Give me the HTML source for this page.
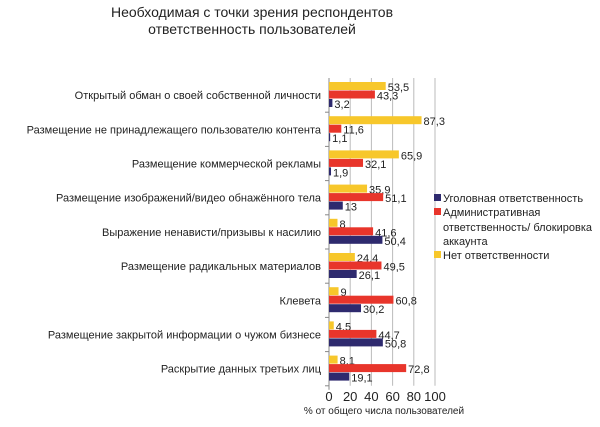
<!DOCTYPE html>
<html><head><meta charset="utf-8"><style>
body{margin:0;background:#fff;font-family:"Liberation Sans",sans-serif}
svg text{font-family:"Liberation Sans",sans-serif}
</style></head><body>
<svg id="c" width="600" height="422" xmlns="http://www.w3.org/2000/svg">
<text x="252" y="17" font-size="14" text-anchor="middle" fill="#222">Необходимая с точки зрения респондентов</text>
<text x="252" y="34" font-size="14" text-anchor="middle" fill="#222">ответственность пользователей</text>
<g id="plot"></g>
<g>
<rect x="434" y="194" width="7" height="7" fill="#2e2a6e"/>
<text x="443" y="202" font-size="11" fill="#222">Уголовная ответственность</text>
<rect x="434" y="208" width="7" height="7" fill="#e8352b"/>
<text x="443" y="216" font-size="11" fill="#222">Административная</text>
<text x="443" y="231" font-size="11" fill="#222">ответственность/ блокировка</text>
<text x="443" y="245" font-size="11" fill="#222">аккаунта</text>
<rect x="434" y="251" width="7" height="7" fill="#f7c72b"/>
<text x="443" y="259" font-size="11" fill="#222">Нет ответственности</text>
</g>
<text x="384" y="414" font-size="10" text-anchor="middle" fill="#222">% от общего числа пользователей</text>
</svg>
<script>
const categories=["Открытый обман о своей собственной личности","Размещение не принадлежащего пользователю контента","Размещение коммерческой рекламы","Размещение изображений/видео обнажённого тела","Выражение ненависти/призывы к насилию","Размещение радикальных материалов","Клевета","Размещение закрытой информации о чужом бизнесе","Раскрытие данных третьих лиц"];
const criminal=[3.2,1.1,1.9,13,50.4,26.1,30.2,50.8,19.1];
const admin=[43.3,11.6,32.1,51.1,41.6,49.5,60.8,44.7,72.8];
const none=[53.5,87.3,65.9,35.9,8,24.4,9,4.5,8.1];
const ticks=[0,20,40,60,80,100];
const NS="http://www.w3.org/2000/svg";
const g=document.getElementById('plot');
const x0=329,x1=435,yTop=78,band=34.2;
const X=v=>x0+(x1-x0)*v/100;
const Y=i=>yTop+band*i;
function mk(t,a){const e=document.createElementNS(NS,t);for(const k in a)e.setAttribute(k,a[k]);g.appendChild(e);return e;}
ticks.forEach(t=>{
 if(t>0){const l=mk('line',{x1:X(t),x2:X(t),y1:yTop,y2:yTop+band*9,stroke:'#bbb','stroke-width':1});
 
 }
 const tx=mk('text',{x:X(t),y:401,'font-size':13,'text-anchor':'middle',fill:'#222'});tx.textContent=t;
 
 
});
const ax=mk('line',{x1:x0,x2:x0,y1:yTop,y2:yTop+band*9+4,stroke:'#888'});


const series=[[none,'#f7c72b','none'],[admin,'#e8352b','admin'],[criminal,'#2e2a6e','criminal']];
categories.forEach((c,i)=>{
 const tk=mk('line',{x1:x0-4,x2:x0,y1:Y(i+1),y2:Y(i+1),stroke:'#888'});
 
 
 const lb=mk('text',{x:321,y:Y(i)+band/2+4,'font-size':11,'text-anchor':'end',fill:'#222'});lb.textContent=c;
 
 
 series.forEach(([arr,col,nm],k)=>{
  const y=Y(i)+4+k*8.5;
  const r=mk('rect',{x:x0,y:y,width:X(arr[i])-x0,height:8,fill:col});
  
  
  const t=mk('text',{x:X(arr[i])+2,y:y+9,'font-size':11,fill:'#222'});t.textContent=String(arr[i]).replace('.',',');
  
  
 });
});
</script>
</body></html>
